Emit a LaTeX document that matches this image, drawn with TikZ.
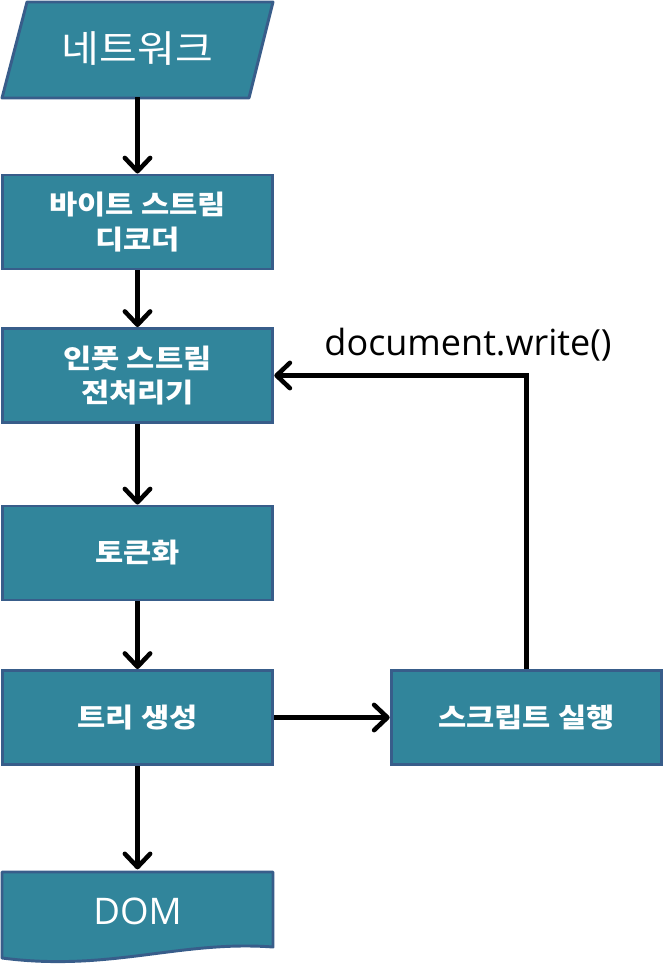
\documentclass[tikz,border=0pt]{standalone}
\usepackage{fontspec}
\newfontfamily\kr[FakeStretch=1.15]{Noto Sans CJK KR}
\newfontfamily\krbig[FakeStretch=1.1]{Noto Sans CJK KR}
\newfontfamily\lat{Open Sans}
\usetikzlibrary{arrows.meta}
\definecolor{boxfill}{RGB}{49,133,155}
\definecolor{boxline}{RGB}{56,93,138}
\tikzset{
  flowbox/.style={rectangle, fill=boxfill, draw=boxline, line width=2.2pt,
    minimum width=203pt, minimum height=70.5pt, text=white, align=center,
    font=\kr\bfseries\fontsize{20}{26}\selectfont, inner sep=0pt},
  shapeline/.style={fill=boxfill, draw=boxline, line width=2.2pt, line join=round},
  bigtext/.style={text=white, font=\krbig\fontsize{28}{30}\selectfont},
  flowarrow/.style={line width=3.4pt, -{Straight Barb[length=10pt,width=19pt,line cap=round,line join=round]}}
}
\begin{document}
\begin{tikzpicture}[x=0.75pt,y=-0.75pt]
\useasboundingbox (0,0) rectangle (665,967);
% network parallelogram
\draw[shapeline] (27,2) -- (273,2) -- (249,98) -- (2,98) -- cycle;
\node[bigtext, minimum width=180pt, minimum height=72pt, inner sep=0pt] (net) at (137.5,49) {네트워크};
% boxes
\node[flowbox] (dec) at (137.5,222) {바이트 스트림\\디코더};
\node[flowbox] (inp) at (137.5,375.5) {인풋 스트림\\전처리기};
\node[flowbox] (tok) at (137.5,553) {토큰화};
\node[flowbox] (tree) at (137.5,717.5) {트리 생성};
\node[flowbox] (scr) at (526.5,717.5) {스크립트 실행};
% DOM document shape
\draw[shapeline] (2,872) -- (273,872) -- (273,947)
  .. controls (180,940) and (110,972) .. (2,958) -- cycle;
\node[text=white, font=\lat\fontsize{27.5}{30}\selectfont, minimum width=203pt, minimum height=62pt, inner sep=0pt] (dom) at (137.5,911) {DOM};
% arrows
\draw[flowarrow] (net.south) -- (dec.north);
\draw[flowarrow] (dec) -- (inp);
\draw[flowarrow] (inp) -- (tok);
\draw[flowarrow] (tok) -- (tree);
\draw[flowarrow] (tree) -- (dom.north);
\draw[flowarrow] (tree) -- (scr);
\draw[flowarrow, line join=miter] (scr.north) |- (inp.east);
\node[font=\lat\fontsize{27}{30}\selectfont, inner sep=0pt] (lbl) at (468,345) {document.write()};
\end{tikzpicture}
\end{document}
